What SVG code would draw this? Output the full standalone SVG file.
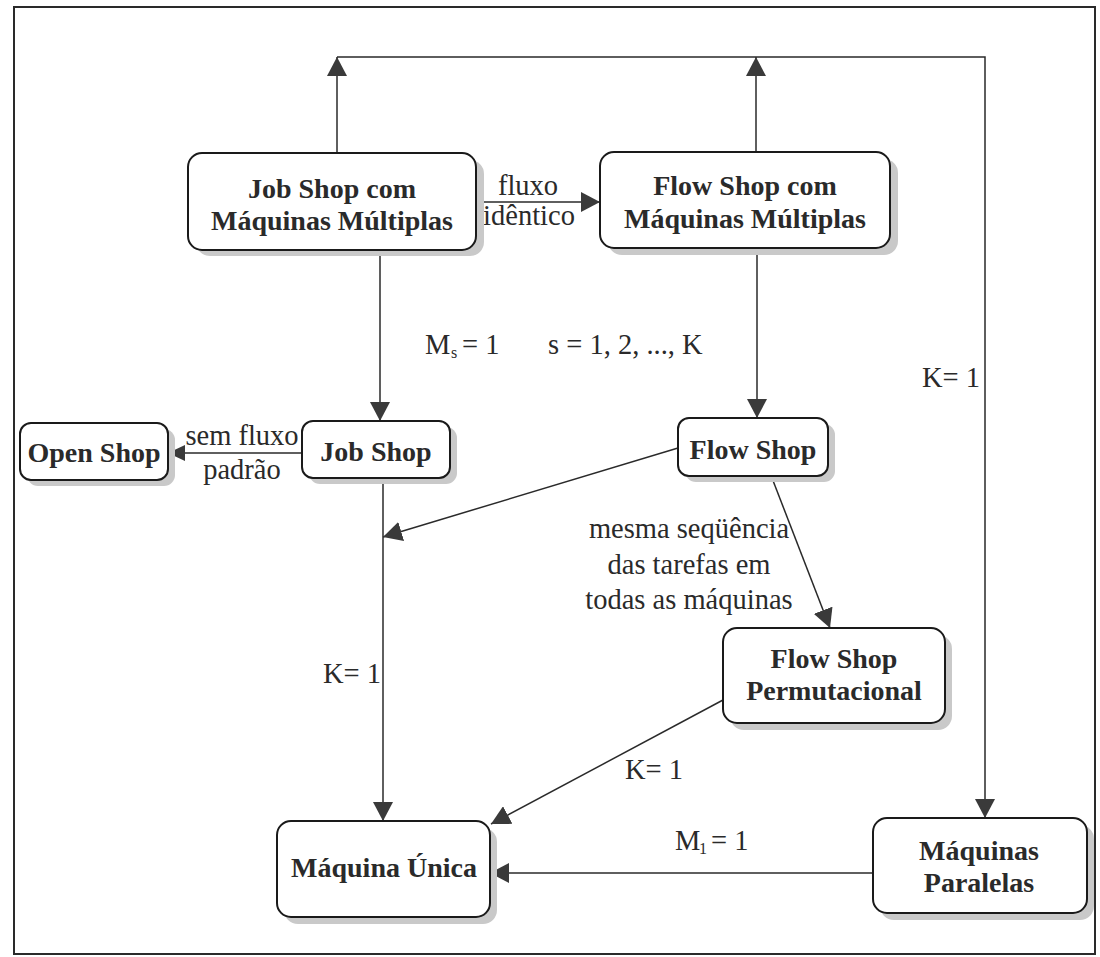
<svg xmlns="http://www.w3.org/2000/svg" width="1100" height="957" viewBox="0 0 1100 957">
<style>
.box{fill:#fff;stroke:#1a1a1a;stroke-width:2}
.sh{fill:#c9c9c9;stroke:none}
.nt{font-family:'Liberation Serif',serif;font-weight:bold;font-size:28px;fill:#2a2a2a;text-anchor:middle}
.lb{font-family:'Liberation Serif',serif;font-size:28.5px;fill:#2a2a2a}
.sub{font-size:16px}
.ln{fill:none;stroke:#2a2a2a;stroke-width:1.5}
</style>
<defs>
<marker id="ah" markerUnits="userSpaceOnUse" markerWidth="20" markerHeight="20" refX="19" refY="10" orient="auto">
<path d="M0,0 L19,10 L0,20 z" fill="#3a3a3a"/>
</marker>
<marker id="ahs" markerUnits="userSpaceOnUse" markerWidth="18" markerHeight="16" refX="17" refY="8" orient="auto">
<path d="M0,0 L17,8 L0,16 z" fill="#3a3a3a"/>
</marker>
</defs>
<rect x="0" y="0" width="1100" height="957" fill="#fff"/>
<rect x="14" y="7" width="1081" height="947" fill="none" stroke="#2a2a2a" stroke-width="2"/>

<g id="connectors">
<polyline class="ln" points="337,57 985,57 985,818" marker-end="url(#ah)"/>
<line class="ln" x1="337" y1="153" x2="337" y2="57" marker-end="url(#ah)"/>
<line class="ln" x1="756" y1="152" x2="756" y2="57" marker-end="url(#ah)"/>
<line class="ln" x1="476" y1="202" x2="600" y2="202" marker-end="url(#ah)"/>
<line class="ln" x1="380" y1="250" x2="380" y2="421" marker-end="url(#ah)"/>
<line class="ln" x1="757" y1="248" x2="757" y2="418" marker-end="url(#ah)"/>
<line class="ln" x1="302" y1="453" x2="168" y2="453" marker-end="url(#ahs)"/>
<line class="ln" x1="383" y1="478" x2="383" y2="821" marker-end="url(#ah)"/>
<line class="ln" x1="678" y1="448" x2="383" y2="537" marker-end="url(#ah)"/>
<line class="ln" x1="772" y1="478" x2="830" y2="628" marker-end="url(#ah)"/>
<line class="ln" x1="723" y1="700" x2="491" y2="824" marker-end="url(#ah)"/>
<line class="ln" x1="873" y1="873" x2="490" y2="873" marker-end="url(#ah)"/>
</g>

<g id="labels">
<text class="lb" x="528" y="195" text-anchor="middle">fluxo</text>
<text class="lb" x="529" y="225" text-anchor="middle">idêntico</text>
<text class="lb" x="425" y="354">M</text>
<text class="lb sub" x="451" y="358">s</text>
<text class="lb" x="462" y="354">= 1</text>
<text class="lb" x="548" y="354">s = 1, 2, ..., K</text>
<text class="lb" x="922" y="387">K= 1</text>
<text class="lb" x="242" y="445" text-anchor="middle">sem fluxo</text>
<text class="lb" x="242" y="479" text-anchor="middle">padrão</text>
<text class="lb" x="689" y="538" text-anchor="middle">mesma seqüência</text>
<text class="lb" x="689" y="574" text-anchor="middle">das tarefas em</text>
<text class="lb" x="689" y="609" text-anchor="middle">todas as máquinas</text>
<text class="lb" x="323" y="683">K= 1</text>
<text class="lb" x="625" y="779">K= 1</text>
<text class="lb" x="675" y="850">M</text>
<text class="lb sub" x="699" y="854">1</text>
<text class="lb" x="711" y="850">= 1</text>
</g>

<g id="n-jsmm">
<rect class="sh" x="196" y="160" width="288" height="96" rx="14"/>
<rect class="box" x="188" y="153" width="288" height="97" rx="14"/>
<text class="nt" x="332" y="198">Job Shop com</text>
<text class="nt" x="332" y="230">Máquinas Múltiplas</text>
</g>
<g id="n-fsmm">
<rect class="sh" x="608" y="159" width="290" height="96" rx="14"/>
<rect class="box" x="600" y="152" width="290" height="96" rx="14"/>
<text class="nt" x="745" y="195">Flow Shop com</text>
<text class="nt" x="745" y="228">Máquinas Múltiplas</text>
</g>
<g id="n-open">
<rect class="sh" x="27" y="429" width="148" height="57" rx="11"/>
<rect class="box" x="20" y="423" width="148" height="57" rx="11"/>
<text class="nt" x="94" y="462">Open Shop</text>
</g>
<g id="n-job">
<rect class="sh" x="309" y="427" width="148" height="57" rx="11"/>
<rect class="box" x="302" y="421" width="148" height="57" rx="11"/>
<text class="nt" x="376" y="461">Job Shop</text>
</g>
<g id="n-flow">
<rect class="sh" x="685" y="424" width="150" height="58" rx="11"/>
<rect class="box" x="678" y="418" width="150" height="58" rx="11"/>
<text class="nt" x="753" y="459">Flow Shop</text>
</g>
<g id="n-perm">
<rect class="sh" x="730" y="635" width="222" height="95" rx="14"/>
<rect class="box" x="723" y="628" width="222" height="95" rx="14"/>
<text class="nt" x="834" y="668">Flow Shop</text>
<text class="nt" x="834" y="700">Permutacional</text>
</g>
<g id="n-unica">
<rect class="sh" x="284" y="828" width="213" height="96" rx="14"/>
<rect class="box" x="277" y="821" width="213" height="96" rx="14"/>
<text class="nt" x="384" y="877">Máquina Única</text>
</g>
<g id="n-paralelas">
<rect class="sh" x="880" y="825" width="214" height="95" rx="14"/>
<rect class="box" x="873" y="818" width="214" height="95" rx="14"/>
<text class="nt" x="979" y="860">Máquinas</text>
<text class="nt" x="979" y="892">Paralelas</text>
</g>
</svg>
